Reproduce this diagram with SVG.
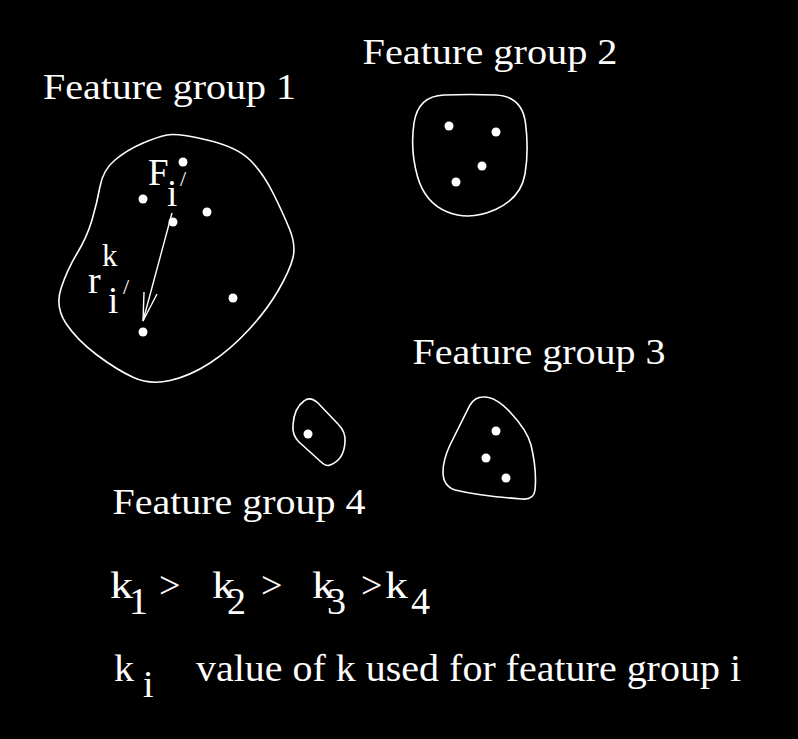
<svg xmlns="http://www.w3.org/2000/svg" width="798" height="739" viewBox="0 0 798 739">
<style>
.t{font-family:"Liberation Serif","Times New Roman",serif;fill:#fff;font-size:36px}
.l{font-size:38px}
.b{fill:none;stroke:#fff;stroke-width:1.6}
.d{fill:#fff}
.c{fill:none;stroke:#fff;stroke-width:1.4}
</style>
<rect width="798" height="739" fill="#000"/>
<g id="group1">
<path class="b" d="M207,140 Q237,147 250,160 Q263,173 273,193 Q283,213 289.5,229 Q296,245 293,257.5 Q290,270 278.5,290 Q267,310 248.5,330 Q230,350 210,363 Q190,376 170,380.5 Q150,385 133.5,377.5 Q117,370 97,355 Q77,340 66,323.5 Q55,307 61,288.5 Q67,270 77,253.5 Q87,237 92,220 Q97,203 100,186.5 Q103,170 115,160 Q127,150 142,143.5 Q157,137 167,135 Q177,133 207,140 Z"/>
<circle class="d" cx="183" cy="162" r="4.5"/>
<circle class="d" cx="143" cy="199" r="4.5"/>
<circle class="d" cx="207" cy="212" r="4.5"/>
<circle class="d" cx="173" cy="222" r="4.5"/>
<circle class="d" cx="233" cy="298" r="4.5"/>
<circle class="d" cx="143" cy="332" r="4.5"/>
<text class="t" x="43" y="99" textLength="253" lengthAdjust="spacingAndGlyphs">Feature group 1</text>
<text class="t" x="148" y="185" style="font-size:37px">F</text>
<text class="t" x="167" y="206" style="font-size:37px">i</text>
<text class="t" x="180" y="186" style="font-size:22px">/</text>
<text class="t" x="88" y="293" style="font-size:38px">r</text>
<text class="t" x="102" y="266" style="font-size:31px">k</text>
<text class="t" x="108" y="313" style="font-size:37px">i</text>
<text class="t" x="123" y="294" style="font-size:22px">/</text>
</g>
<g id="group2">
<path class="b" d="M444,95 Q470,94 496,95 Q522,96 525.5,123 Q529,150 525,174 Q521,198 495.5,209.5 Q470,221 447.5,212 Q425,203 417.5,176.5 Q410,150 414,123 Q418,96 444,95 Z"/>
<circle class="d" cx="449" cy="126" r="4.5"/>
<circle class="d" cx="496" cy="132" r="4.5"/>
<circle class="d" cx="482" cy="166" r="4.5"/>
<circle class="d" cx="456" cy="182" r="4.5"/>
<text class="t" x="362.5" y="64" textLength="255" lengthAdjust="spacingAndGlyphs">Feature group 2</text>
</g>
<g id="group3">
<path class="b" d="M483,397 Q495,396 510,412 Q527,430 531,445 Q537,470 535,490 Q534,500 522,499 Q480,496 455,490 Q443,486 443,472 Q443,460 450,445 L470,405 Q475,397 483,397 Z"/>
<circle class="d" cx="496" cy="431" r="4.5"/>
<circle class="d" cx="486" cy="458" r="4.5"/>
<circle class="d" cx="506" cy="478" r="4.5"/>
<text class="t" x="412.5" y="364" textLength="253" lengthAdjust="spacingAndGlyphs">Feature group 3</text>
</g>
<g id="group4">
<path class="b" d="M304,401 Q310,396 318,403 L338,424 Q346,432 345,442 Q344,460 330,465 Q326,467 320,461 L299,442 Q292,435 293,425 Q294,408 304,401 Z"/>
<circle class="d" cx="308" cy="434" r="4.5"/>
<text class="t" x="112.5" y="514" textLength="253" lengthAdjust="spacingAndGlyphs">Feature group 4</text>
</g>
<g id="connectors">
<path class="c" d="M172,213 L143,321"/>
<path class="c" d="M144,292 L143,321 L157,294"/>
</g>
<g id="legend">
<text class="t l" x="110" y="598" textLength="23" lengthAdjust="spacingAndGlyphs">k</text>
<text class="t l" x="129" y="614">1</text>
<text class="t l" x="159" y="598">&gt;</text>
<text class="t l" x="212" y="598" textLength="23" lengthAdjust="spacingAndGlyphs">k</text>
<text class="t l" x="227" y="614">2</text>
<text class="t l" x="261" y="598">&gt;</text>
<text class="t l" x="312" y="598" textLength="23" lengthAdjust="spacingAndGlyphs">k</text>
<text class="t l" x="327" y="614">3</text>
<text class="t l" x="361" y="598">&gt;</text>
<text class="t l" x="385" y="598" textLength="23" lengthAdjust="spacingAndGlyphs">k</text>
<text class="t l" x="411" y="614">4</text>
<text class="t l" x="114" y="681" textLength="20" lengthAdjust="spacingAndGlyphs">k</text>
<text class="t l" x="143" y="697">i</text>
<text class="t l" x="196" y="681" textLength="545" lengthAdjust="spacingAndGlyphs">value of k used for feature group i</text>
</g>
</svg>
